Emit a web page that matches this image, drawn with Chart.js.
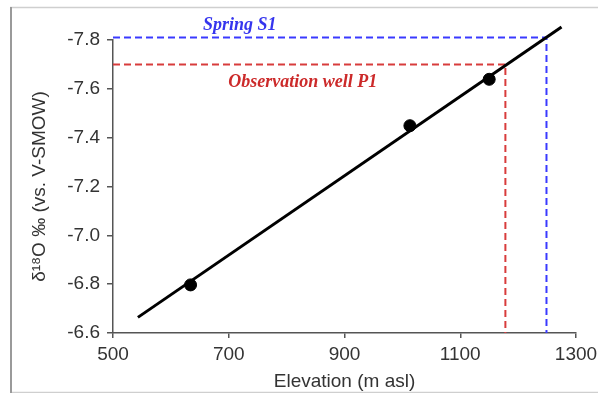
<!DOCTYPE html>
<html>
<head>
<meta charset="utf-8">
<script src="https://cdn.jsdelivr.net/npm/chart.js@4.4.1/dist/chart.umd.min.js"></script>
<style>
  body { margin: 0; background: #fff; }
  #wrap { width: 598px; height: 393px; }
</style>
</head>
<body>
<div id="wrap"><canvas id="isoChart" width="598" height="393"></canvas></div>
<script>
// measured samples
const elevation = [634, 1013, 1150];
const delta18O = [-6.797, -7.449, -7.639];

// fitted line end points
const fitX = [543, 1275];
const fitY = [-6.664, -7.853];

// projection guides
const springX = [500, 1249, 1249];
const springY = [-7.81, -7.81, -6.6];
const wellX = [500, 1178, 1178];
const wellY = [-7.70, -7.70, -6.6];

const xTicks = [500, 700, 900, 1100, 1300];
const yTicks = [-7.8, -7.6, -7.4, -7.2, -7.0, -6.8, -6.6];

// annotation labels [text, x, y]
const notes = [
    ['Spring S1', 719, -7.86, '#3535ee'],
    ['Observation well P1', 828, -7.628, '#cc2a2a']
];

const toPts = (xs, ys) => xs.map((x, i) => ({ x: x, y: ys[i] }));

const frame = {
    id: 'frame',
    beforeDraw(chart) {
        const ctx = chart.ctx;
        ctx.save();
        ctx.fillStyle = '#fff';
        ctx.fillRect(0, 0, chart.width, chart.height);
        ctx.strokeStyle = '#cfcfcf';
        ctx.lineWidth = 1.5;
        ctx.beginPath();
        ctx.moveTo(10, 7.5); ctx.lineTo(598, 7.5);
        ctx.moveTo(10, 392.5); ctx.lineTo(598, 392.5);
        ctx.stroke();
        ctx.strokeStyle = '#9a9a9a';
        ctx.lineWidth = 2;
        ctx.beginPath();
        ctx.moveTo(11, 7); ctx.lineTo(11, 393);
        ctx.stroke();
        ctx.restore();
    },
    afterDatasetsDraw(chart) {
        const ctx = chart.ctx;
        const xs = chart.scales.x, ys = chart.scales.y;
        ctx.save();
        ctx.font = 'italic bold 18px "Liberation Serif", "Times New Roman", serif';
        ctx.textAlign = 'center';
        ctx.textBaseline = 'middle';
        notes.forEach(n => {
            ctx.fillStyle = n[3];
            ctx.fillText(n[0], xs.getPixelForValue(n[1]), ys.getPixelForValue(n[2]));
        });
        ctx.restore();
    }
};

const axisFont = { family: '"Liberation Sans", Arial, sans-serif', size: 19 };

new Chart(document.getElementById('isoChart'), {
    type: 'scatter',
    data: {
        datasets: [
            {
                data: toPts(elevation, delta18O),
                backgroundColor: '#000',
                borderColor: '#000',
                pointRadius: 6,
                order: 0
            },
            {
                type: 'line',
                data: toPts(fitX, fitY),
                borderColor: '#000',
                borderWidth: 3,
                pointRadius: 0,
                fill: false,
                order: 1
            },
            {
                type: 'line',
                data: toPts(springX, springY),
                borderColor: '#3a3aff',
                borderWidth: 2,
                borderDash: [7, 4],
                pointRadius: 0,
                fill: false,
                order: 2
            },
            {
                type: 'line',
                data: toPts(wellX, wellY),
                borderColor: '#d83c3c',
                borderWidth: 2,
                borderDash: [7, 4],
                pointRadius: 0,
                fill: false,
                order: 2
            }
        ]
    },
    options: {
        responsive: false,
        animation: false,
        clip: false,
        layout: { padding: { left: 0, right: 22, top: 40, bottom: 0 } },
        plugins: {
            legend: { display: false },
            tooltip: { enabled: false }
        },
        scales: {
            x: {
                type: 'linear',
                min: 500,
                max: 1300,
                afterBuildTicks: s => { s.ticks = xTicks.map(v => ({ value: v })); },
                afterFit: s => { s.height = 60; s.paddingLeft = 0; s.paddingRight = 0; },
                grid: { display: true, drawOnChartArea: false, drawTicks: true, tickLength: 5, color: '#555', lineWidth: 1.5 },
                border: { display: true, color: '#555', width: 1.5 },
                ticks: { color: '#333', font: axisFont, padding: 5, maxRotation: 0, callback: v => String(v) },
                title: { display: true, text: 'Elevation (m asl)', color: '#333', font: axisFont, padding: { top: 0, bottom: 0 } }
            },
            y: {
                type: 'linear',
                reverse: true,
                min: -7.8,
                max: -6.6,
                afterBuildTicks: s => { s.ticks = yTicks.map(v => ({ value: v })); },
                afterFit: s => { s.width = 113; s.paddingTop = 0; s.paddingBottom = 0; },
                grid: { display: true, drawOnChartArea: false, drawTicks: true, tickLength: 6, color: '#555', lineWidth: 1.5 },
                border: { display: true, color: '#555', width: 1.5 },
                ticks: {
                    color: '#333',
                    font: axisFont,
                    padding: 7,
                    callback: v => v.toFixed(1)
                },
                title: { display: true, text: 'δ¹⁸O ‰ (vs. V-SMOW)', color: '#333', font: axisFont, padding: { top: 28, bottom: 0 } }
            }
        }
    },
    plugins: [frame]
});
</script>
</body>
</html>
